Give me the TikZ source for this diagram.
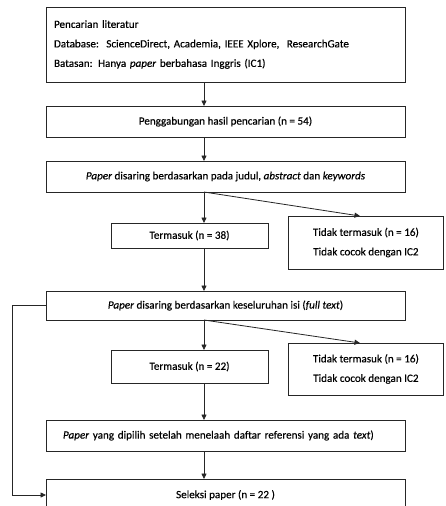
\documentclass[tikz,border=0pt]{standalone}
\usepackage{fontspec}
\setmainfont{Carlito}[FakeBold=0.3]
\usetikzlibrary{arrows.meta}
\begin{document}
\begin{tikzpicture}[x=1pt,y=-1pt,
  box/.style={draw=black!85, line width=1pt, anchor=north west, outer sep=0pt, inner sep=0pt,
    font=\fontsize{11.1}{19.5}\selectfont, align=center},
  arr/.style={draw=black!85, line width=0.8pt, -{Triangle[length=5.5pt,width=5pt]}}]
\useasboundingbox (0,0) rectangle (445,506);
\clip (0,0) rectangle (445,506);
\fill[white] (0,0) rectangle (445,506);
\coordinate (xa) at (204,0);
\coordinate (xd) at (360,0);
\coordinate (xl) at (12,0);
\node[box, minimum width=359pt, minimum height=75pt, text width=343pt, align=left] (b1) at (46,7)
  {Pencarian literatur\\Database:\ \ ScienceDirect, Academia, IEEE Xplore,\ \ ResearchGate\\Batasan: Hanya \textit{paper} berbahasa Inggris (IC1)};
\node[box, minimum width=359pt, minimum height=31pt] (b2) at (46,106) {Penggabungan hasil pencarian (n = 54)};
\node[box, minimum width=359pt, minimum height=31pt] (b3) at (46,161) {\textit{Paper} disaring berdasarkan pada judul, \textit{abstract} dan \textit{keywords}};
\node[box, minimum width=157pt, minimum height=25pt] (k1) at (111,223) {Termasuk (n = 38)};
\node[box, minimum width=155.8pt, minimum height=53pt] (t1) at (288,216) {Tidak termasuk (n = 16)\\Tidak cocok dengan IC2};
\node[box, minimum width=359pt, minimum height=29pt] (b4) at (46,291) {\textit{Paper} disaring berdasarkan keseluruhan isi (\textit{full text})};
\node[box, minimum width=157pt, minimum height=33pt] (k2) at (111,350) {Termasuk (n = 22)};
\node[box, minimum width=155.8pt, minimum height=52pt] (t2) at (288,343) {Tidak termasuk (n = 16)\\Tidak cocok dengan IC2};
\node[box, minimum width=359pt, minimum height=31pt, text width=325pt, inner xsep=17pt, align=left] (b5) at (46,420) {\textit{Paper} yang dipilih setelah menelaah daftar referensi yang ada \textit{text})};
\node[box, minimum width=359pt, minimum height=32pt] (b6) at (46,479) {Seleksi paper (n = 22 )};
\draw[arr] (b1.south -| xa) -- (b2.north -| xa);
\draw[arr] (b2.south -| xa) -- (b3.north -| xa);
\draw[arr] (b3.south -| xa) -- (k1.north -| xa);
\draw[arr] (b3.south -| xa) -- (t1.north -| xd);
\draw[arr] (k1.south -| xa) -- (b4.north -| xa);
\draw[arr] (b4.south -| xa) -- (k2.north -| xa);
\draw[arr] (b4.south -| xa) -- (t2.north -| xd);
\draw[arr] (k2.south -| xa) -- (b5.north -| xa);
\draw[arr] (b5.south -| xa) -- (b6.north -| xa);
\draw[arr] (b4.west) -- (b4.west -| xl) -- (b6.west -| xl) -- (b6.west);
\end{tikzpicture}
\end{document}
